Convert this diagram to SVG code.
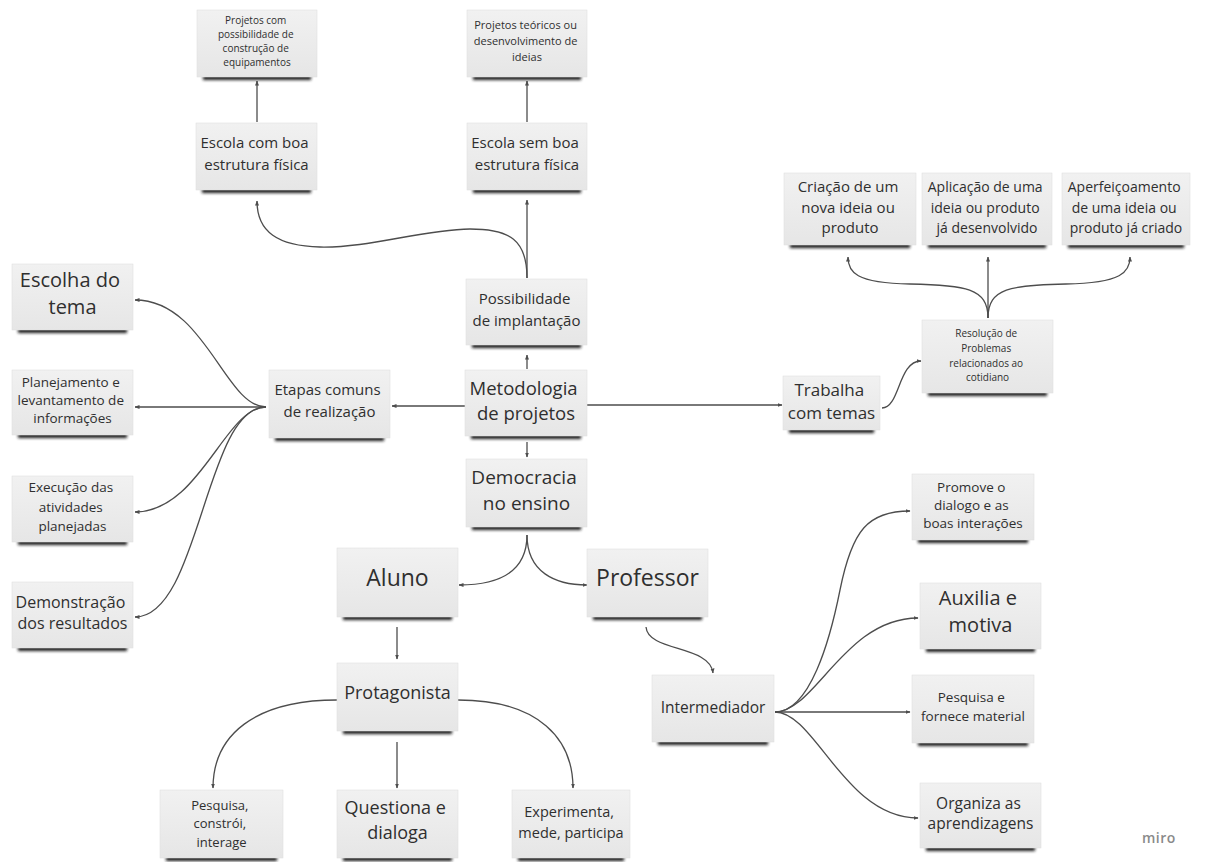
<svg xmlns="http://www.w3.org/2000/svg" width="1207" height="862" viewBox="0 0 1207 862">
<defs>
<style>
.card{fill:url(#cg);stroke:#e0e0e0;stroke-width:0.6}
.sh{fill:#1e1e1e;filter:url(#bl);transform:translateY(2px)}
.t{font-family:"Open Sans","Noto Sans","Liberation Sans",sans-serif;fill:#2f2f2f;text-anchor:middle}
.c{fill:none;stroke:#4d4d4d;stroke-width:1.3;marker-end:url(#ah)}
.miro{font-family:"Open Sans","Noto Sans",sans-serif;font-size:14px;font-weight:600;fill:#8a8a8a;letter-spacing:0.5px}
</style>
<linearGradient id="cg" x1="0" y1="0" x2="0" y2="1">
<stop offset="0" stop-color="#f1f1f1"/>
<stop offset="1" stop-color="#e6e6e6"/>
</linearGradient>
<filter id="bl" x="-10%" y="-150%" width="120%" height="400%">
<feGaussianBlur stdDeviation="1.6"/>
</filter>
<marker id="ah" viewBox="0 0 10 10" refX="9" refY="5" markerWidth="5" markerHeight="5" markerUnits="userSpaceOnUse" orient="auto">
<path d="M0,1 L10,5 L0,9 z" fill="#4d4d4d"/>
</marker>
</defs>
<rect width="1207" height="862" fill="#ffffff"/>

<g id="connectors">
<path class="c" d="M257,122 L257,81"/>
<path class="c" d="M527,122 L527,81"/>
<path class="c" d="M527,278 L527,200"/>
<path class="c" d="M527,278 C527,240 510,229 470,229 C420,230 370,248 320,247 C278,246 257,232 257,201"/>
<path class="c" d="M527,369 L527,355"/>
<path class="c" d="M527,442 L527,457"/>
<path class="c" d="M465,406 L392,406"/>
<path class="c" d="M587,405 L782,405"/>
<path class="c" d="M266,407 C225,407 205,300 135,300"/>
<path class="c" d="M266,407 L135,407"/>
<path class="c" d="M266,407 C225,407 200,512 135,512"/>
<path class="c" d="M266,407 C205,407 200,617 135,617"/>
<path class="c" d="M882,408 C900,408 898,361 921,361"/>
<path class="c" d="M988,318 C988,288 965,285 910,284 C855,283 848,272 848,257"/>
<path class="c" d="M988,318 L988,257"/>
<path class="c" d="M988,318 C988,288 1011,285 1066,284 C1122,283 1130,272 1130,257"/>
<path class="c" d="M527,535 C527,572 500,585 459,585"/>
<path class="c" d="M527,535 C527,572 555,585 587,585"/>
<path class="c" d="M397,627 L397,659"/>
<path class="c" d="M646,627 C648,652 710,645 713,673"/>
<path class="c" d="M337,700 C255,700 213,735 213,788"/>
<path class="c" d="M397,742 L397,788"/>
<path class="c" d="M458,700 C540,700 573,740 573,788"/>
<path class="c" d="M775,712 C810,712 830,640 840,590 C852,530 868,511 910,511"/>
<path class="c" d="M775,712 C815,712 845,618 918,618"/>
<path class="c" d="M775,712 L910,712"/>
<path class="c" d="M775,712 C815,712 845,818 918,818"/>
</g>

<g id="n-proj-com">
<rect class="sh" x="203" y="73" width="108" height="5"/>
<rect class="card" x="197" y="10" width="120" height="67"/>
<text class="t" font-size="10">
<tspan x="257" y="23.5">Projetos com</tspan>
<tspan x="257" y="37.5">possibilidade de</tspan>
<tspan x="257" y="51.5">construção de</tspan>
<tspan x="257" y="65.5">equipamentos</tspan>
</text>
</g>

<g id="n-proj-teo">
<rect class="sh" x="473" y="73" width="108" height="5"/>
<rect class="card" x="467" y="10" width="120" height="67"/>
<text class="t" font-size="11">
<tspan x="527" y="29">Projetos teóricos ou</tspan>
<tspan x="527" y="45">desenvolvimento de</tspan>
<tspan x="527" y="61">ideias</tspan>
</text>
</g>

<g id="n-escola-com">
<rect class="sh" x="202" y="186" width="109" height="5"/>
<rect class="card" x="196" y="123" width="121" height="67"/>
<text class="t" font-size="15">
<tspan x="256.5" y="148">Escola com boa</tspan>
<tspan x="256.5" y="170">estrutura física</tspan>
</text>
</g>

<g id="n-escola-sem">
<rect class="sh" x="473" y="186" width="108" height="5"/>
<rect class="card" x="467" y="123" width="120" height="67"/>
<text class="t" font-size="15">
<tspan x="527" y="148">Escola sem boa</tspan>
<tspan x="527" y="170">estrutura física</tspan>
</text>
</g>

<g id="n-possibilidade">
<rect class="sh" x="472" y="341" width="109" height="5"/>
<rect class="card" x="466" y="279" width="121" height="66"/>
<text class="t" font-size="15">
<tspan x="526.5" y="304">Possibilidade</tspan>
<tspan x="526.5" y="326">de implantação</tspan>
</text>
</g>

<g id="n-metodologia">
<rect class="sh" x="471" y="432" width="110" height="5"/>
<rect class="card" x="465" y="370" width="122" height="66"/>
<text class="t" font-size="18.5">
<tspan x="526" y="394.5">Metodologia</tspan>
<tspan x="526" y="419.5">de projetos</tspan>
</text>
</g>

<g id="n-democracia">
<rect class="sh" x="472" y="523" width="109" height="5"/>
<rect class="card" x="466" y="459" width="121" height="68"/>
<text class="t" font-size="19">
<tspan x="526.5" y="483.5">Democracia</tspan>
<tspan x="526.5" y="509.5">no ensino</tspan>
</text>
</g>

<g id="n-aluno">
<rect class="sh" x="343" y="613" width="109" height="5"/>
<rect class="card" x="337" y="548" width="121" height="69"/>
<text class="t" font-size="23"><tspan x="397.5" y="586">Aluno</tspan></text>
</g>

<g id="n-professor">
<rect class="sh" x="593" y="613" width="109" height="5"/>
<rect class="card" x="587" y="549" width="121" height="68"/>
<text class="t" font-size="23"><tspan x="647.5" y="586">Professor</tspan></text>
</g>

<g id="n-protagonista">
<rect class="sh" x="343" y="727" width="109" height="5"/>
<rect class="card" x="337" y="663" width="121" height="68"/>
<text class="t" font-size="18"><tspan x="397.5" y="699">Protagonista</tspan></text>
</g>

<g id="n-pesquisa-constroi">
<rect class="sh" x="166" y="854" width="111" height="5"/>
<rect class="card" x="160" y="790" width="123" height="68"/>
<text class="t" font-size="13">
<tspan x="221.5" y="809.5">Pesquisa,</tspan>
<tspan x="221.5" y="828">constrói,</tspan>
<tspan x="221.5" y="846.5">interage</tspan>
</text>
</g>

<g id="n-questiona">
<rect class="sh" x="343" y="854" width="109" height="5"/>
<rect class="card" x="337" y="790" width="121" height="68"/>
<text class="t" font-size="18">
<tspan x="397.5" y="814">Questiona e</tspan>
<tspan x="397.5" y="839">dialoga</tspan>
</text>
</g>

<g id="n-experimenta">
<rect class="sh" x="518" y="854" width="106" height="5"/>
<rect class="card" x="512" y="790" width="118" height="68"/>
<text class="t" font-size="14.5">
<tspan x="571" y="817">Experimenta,</tspan>
<tspan x="571" y="838">mede, participa</tspan>
</text>
</g>

<g id="n-intermediador">
<rect class="sh" x="658" y="738" width="110" height="5"/>
<rect class="card" x="652" y="675" width="122" height="67"/>
<text class="t" font-size="15.5"><tspan x="713" y="712.5">Intermediador</tspan></text>
</g>

<g id="n-promove">
<rect class="sh" x="918" y="536" width="110" height="5"/>
<rect class="card" x="912" y="474" width="122" height="66"/>
<text class="t" font-size="13.5">
<tspan x="973" y="491.5">Promove o</tspan>
<tspan x="973" y="509.5">dialogo e as</tspan>
<tspan x="973" y="527.5">boas interações</tspan>
</text>
</g>

<g id="n-auxilia">
<rect class="sh" x="926" y="645" width="109" height="5"/>
<rect class="card" x="920" y="583" width="121" height="66"/>
<text class="t" font-size="20">
<tspan x="980.5" y="605">Auxilia e</tspan>
<tspan x="980.5" y="632">motiva</tspan>
</text>
</g>

<g id="n-pesquisa-fornece">
<rect class="sh" x="918" y="739" width="110" height="5"/>
<rect class="card" x="912" y="675" width="122" height="68"/>
<text class="t" font-size="13.5">
<tspan x="973" y="701.5">Pesquisa e</tspan>
<tspan x="973" y="720.5">fornece material</tspan>
</text>
</g>

<g id="n-organiza">
<rect class="sh" x="926" y="844" width="109" height="5"/>
<rect class="card" x="920" y="783" width="121" height="65"/>
<text class="t" font-size="15.5">
<tspan x="980.5" y="808.5">Organiza as</tspan>
<tspan x="980.5" y="828.5">aprendizagens</tspan>
</text>
</g>

<g id="n-escolha">
<rect class="sh" x="18" y="326" width="109" height="5"/>
<rect class="card" x="12" y="264" width="121" height="66"/>
<text class="t" font-size="20">
<tspan x="72.5" y="287">Escolha do</tspan>
<tspan x="72.5" y="314">tema</tspan>
</text>
</g>

<g id="n-planejamento">
<rect class="sh" x="18" y="431" width="109" height="5"/>
<rect class="card" x="12" y="370" width="121" height="65"/>
<text class="t" font-size="13.5">
<tspan x="72.5" y="387">Planejamento e</tspan>
<tspan x="72.5" y="405">levantamento de</tspan>
<tspan x="72.5" y="423">informações</tspan>
</text>
</g>

<g id="n-execucao">
<rect class="sh" x="18" y="538" width="109" height="5"/>
<rect class="card" x="12" y="476" width="121" height="66"/>
<text class="t" font-size="13.5">
<tspan x="72.5" y="492">Execução das</tspan>
<tspan x="72.5" y="511.5">atividades</tspan>
<tspan x="72.5" y="531">planejadas</tspan>
</text>
</g>

<g id="n-demonstracao">
<rect class="sh" x="18" y="644" width="109" height="5"/>
<rect class="card" x="12" y="582" width="121" height="66"/>
<text class="t" font-size="16">
<tspan x="72.5" y="607.5">Demonstração</tspan>
<tspan x="72.5" y="628.5">dos resultados</tspan>
</text>
</g>

<g id="n-etapas">
<rect class="sh" x="275" y="434" width="109" height="5"/>
<rect class="card" x="269" y="370" width="121" height="68"/>
<text class="t" font-size="15">
<tspan x="329.5" y="395">Etapas comuns</tspan>
<tspan x="329.5" y="417">de realização</tspan>
</text>
</g>

<g id="n-trabalha">
<rect class="sh" x="789" y="426" width="85" height="5"/>
<rect class="card" x="783" y="376" width="97" height="54"/>
<text class="t" font-size="17">
<tspan x="831.5" y="396">Trabalha</tspan>
<tspan x="831.5" y="419">com temas</tspan>
</text>
</g>

<g id="n-resolucao">
<rect class="sh" x="928" y="389" width="119" height="5"/>
<rect class="card" x="922" y="320" width="131" height="73"/>
<text class="t" font-size="10">
<tspan x="987.5" y="336.5">Resolução de</tspan>
<tspan x="987.5" y="351.5">Problemas</tspan>
<tspan x="987.5" y="366.5">relacionados ao</tspan>
<tspan x="987.5" y="380.5">cotidiano</tspan>
</text>
</g>

<g id="n-criacao">
<rect class="sh" x="790" y="241" width="120" height="5"/>
<rect class="card" x="784" y="173" width="132" height="72"/>
<text class="t" font-size="15">
<tspan x="850" y="192">Criação de um</tspan>
<tspan x="850" y="213">nova ideia ou</tspan>
<tspan x="850" y="233">produto</tspan>
</text>
</g>

<g id="n-aplicacao">
<rect class="sh" x="928" y="241" width="118" height="5"/>
<rect class="card" x="922" y="173" width="130" height="72"/>
<text class="t" font-size="14">
<tspan x="987" y="192">Aplicação de uma</tspan>
<tspan x="987" y="213">ideia ou produto</tspan>
<tspan x="987" y="233">já desenvolvido</tspan>
</text>
</g>

<g id="n-aperfeicoamento">
<rect class="sh" x="1068" y="241" width="116" height="5"/>
<rect class="card" x="1062" y="173" width="128" height="72"/>
<text class="t" font-size="14">
<tspan x="1126" y="192">Aperfeiçoamento</tspan>
<tspan x="1126" y="213">de uma ideia ou</tspan>
<tspan x="1126" y="233">produto já criado</tspan>
</text>
</g>

<text class="miro" x="1142" y="843">miro</text>
</svg>
